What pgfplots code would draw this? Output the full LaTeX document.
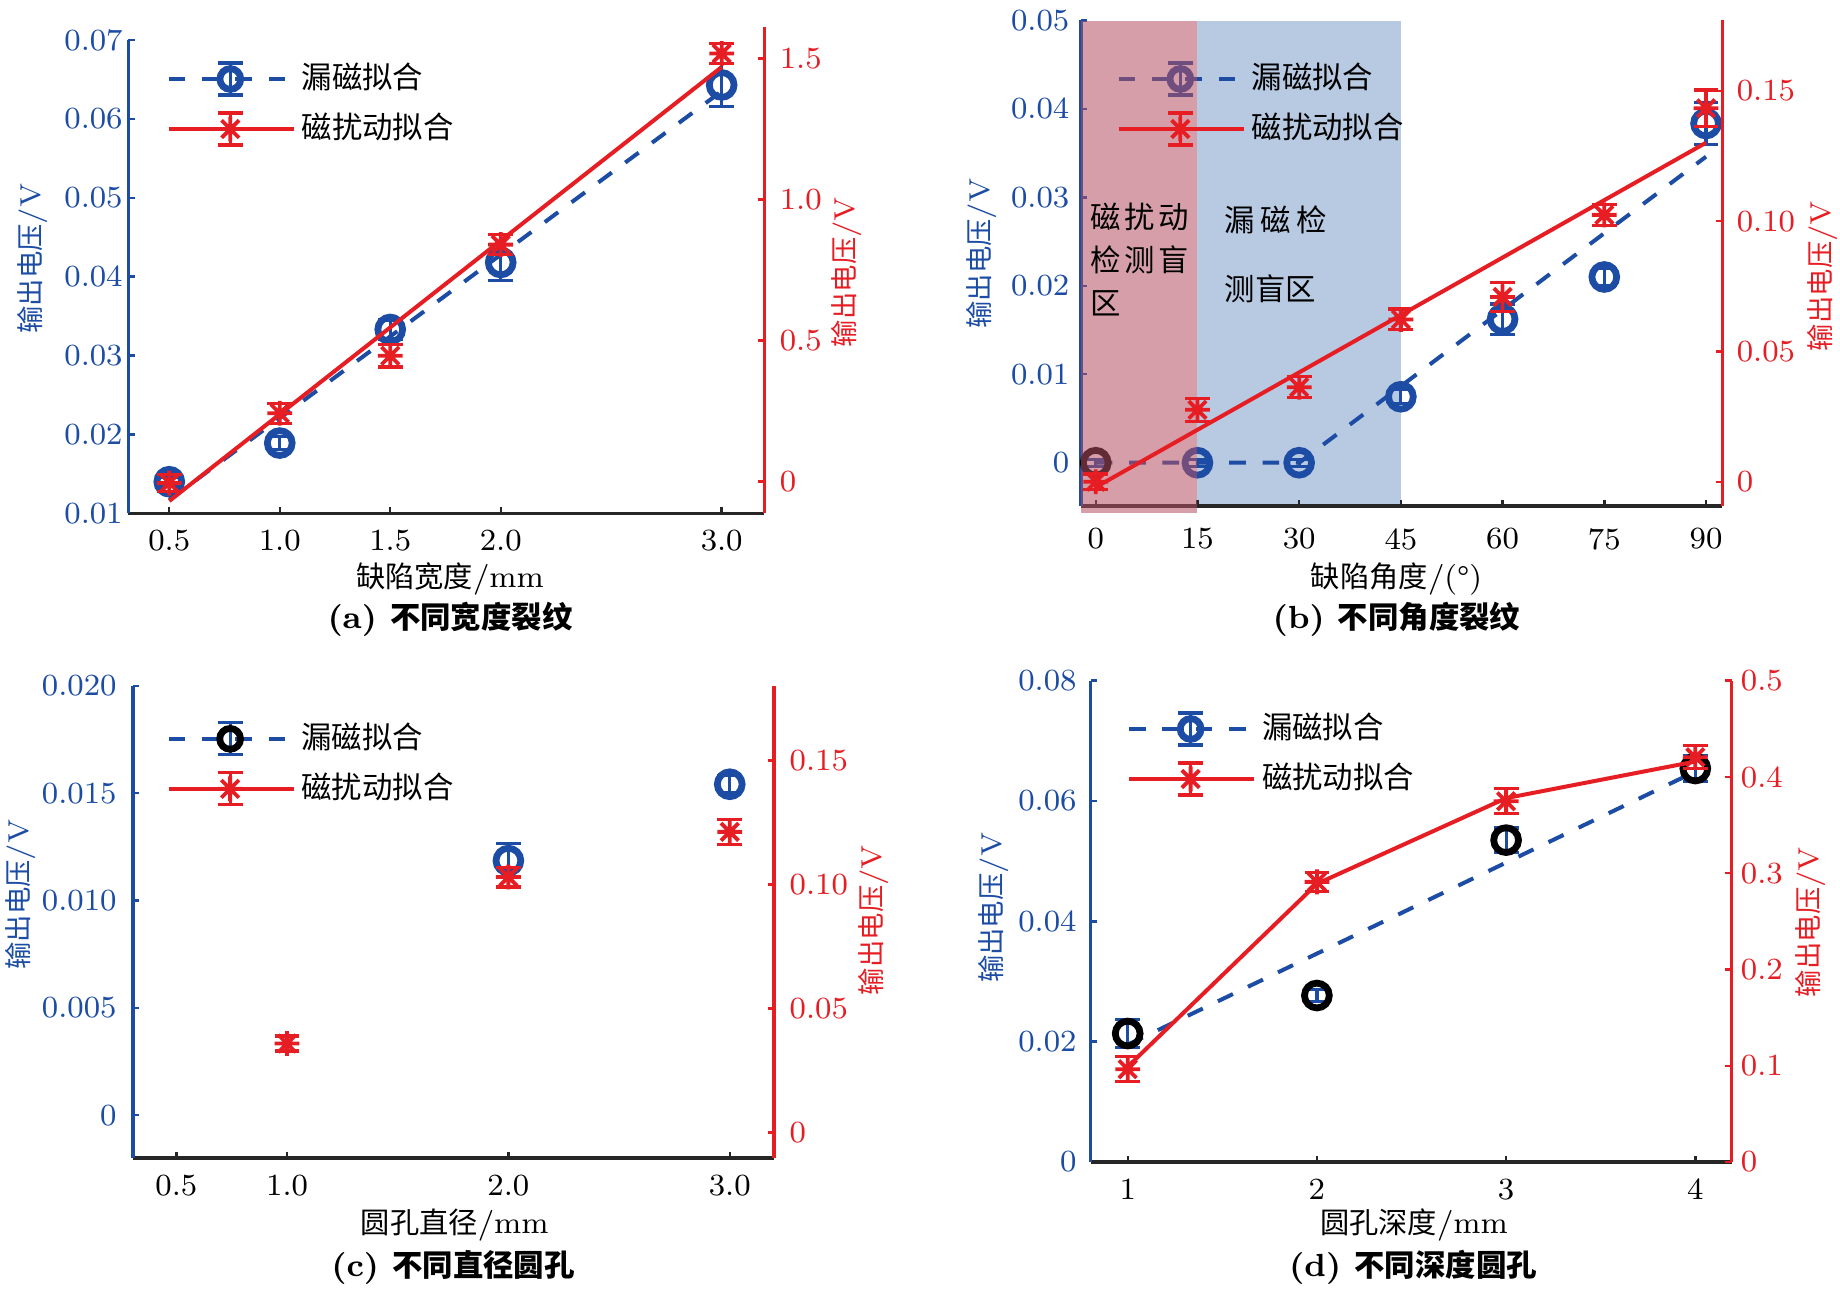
\documentclass[border=0pt]{standalone}
\usepackage{fontspec}
\usepackage{pgfplots}
\pgfplotsset{compat=1.18}
\newfontfamily\cjk{Noto Sans CJK SC}[Scale=0.95]

\definecolor{bl}{RGB}{28,76,164}
\definecolor{rd}{RGB}{230,30,36}
\definecolor{shadeR}{RGB}{180,79,97}
\definecolor{shadeB}{RGB}{184,201,226}

\newcommand\fs{\fontsize{8}{9.6}\selectfont}
\newcommand\ft{\fontsize{7.7}{9.2}\selectfont}
\newcommand\fl{\fontsize{7.2}{8.6}\selectfont}
\newcommand\fx{\fontsize{7.7}{9.2}\selectfont}

% asterisk as drawn by MATLAB: a plus and a cross
\pgfdeclareplotmark{mstar}{%
  \pgfpathmoveto{\pgfqpoint{0pt}{\pgfplotmarksize}}%
  \pgfpathlineto{\pgfqpoint{0pt}{-\pgfplotmarksize}}%
  \pgfpathmoveto{\pgfqpoint{\pgfplotmarksize}{0pt}}%
  \pgfpathlineto{\pgfqpoint{-\pgfplotmarksize}{0pt}}%
  \pgfpathmoveto{\pgfqpoint{.7071\pgfplotmarksize}{.7071\pgfplotmarksize}}%
  \pgfpathlineto{\pgfqpoint{-.7071\pgfplotmarksize}{-.7071\pgfplotmarksize}}%
  \pgfpathmoveto{\pgfqpoint{-.7071\pgfplotmarksize}{.7071\pgfplotmarksize}}%
  \pgfpathlineto{\pgfqpoint{.7071\pgfplotmarksize}{-.7071\pgfplotmarksize}}%
  \pgfusepathqstroke}

\pgfplotsset{
  every axis/.append style={scale only axis, anchor=south west, clip=false,
    scaled ticks=false, font=\fs, tick label style={font=\ft},
    tick align=inside, major tick length=1.6pt, tick style={line width=0.6pt}},
  leftax/.style={axis x line*=bottom, axis y line*=left, axis line style={-},
    x axis line style={black!85, line width=0.8pt},
    y axis line style={bl, line width=0.8pt},
    xtick style={black!85}, ytick style={bl},
    yticklabel style={bl}, xticklabel style={black}},
  rightax/.style={hide x axis, axis y line*=right, axis line style={-},
    y axis line style={rd, line width=0.8pt}, ytick style={rd},
    yticklabel style={rd}},
  bfit/.style={bl, line width=1pt, dash pattern=on 4.17pt off 4.17pt, forget plot},
  rfit/.style={rd, line width=1pt, forget plot},
  bpts/.style={only marks, forget plot, mark=o, mark size=3.1pt,
    mark options={#1, line width=1.7pt, solid},
    error bars/.cd, y dir=both, y explicit,
    error bar style={bl, line width=0.8pt, solid},
    error mark options={rotate=90, bl, line width=0.8pt, mark size=3.1pt}},
  bpts/.default=bl,
  rpts/.style={only marks, forget plot, mark=mstar, mark size=3.1pt,
    mark options={rd, line width=0.95pt, solid},
    error bars/.cd, y dir=both, y explicit,
    error bar style={rd, line width=0.8pt, solid},
    error mark options={rotate=90, rd, line width=0.8pt, mark size=3.1pt}},
  legb/.style={legend image code/.code={
    \path[draw=none, fill=none] (0pt,-6.25pt) rectangle (31.25pt,6.25pt);
    \draw[bl, line width=1pt, dash pattern=on 4.17pt off 4.17pt] (0pt,0pt) -- (31.25pt,0pt);
    \draw[bl, line width=0.8pt, solid] (15.4pt,-4pt) -- (15.4pt,4pt)
      (12.3pt,-4pt) -- (18.5pt,-4pt) (12.3pt,4pt) -- (18.5pt,4pt);
    \draw[#1, line width=1.7pt, solid] plot[mark=o, mark size=2.6pt] coordinates {(15.4pt,0pt)};
  }},
  legb/.default=bl,
  legr/.style={legend image code/.code={
    \path[draw=none, fill=none] (0pt,-6.25pt) rectangle (31.25pt,6.25pt);
    \draw[rd, line width=1pt, solid] (0pt,0pt) -- (31.25pt,0pt);
    \draw[rd, line width=0.8pt, solid] (15.4pt,-4pt) -- (15.4pt,4pt)
      (12.3pt,-4pt) -- (18.5pt,-4pt) (12.3pt,4pt) -- (18.5pt,4pt);
    \draw[rd, line width=0.95pt, solid] plot[mark=mstar, mark size=3.1pt] coordinates {(15.4pt,0pt)};
  }},
  lege/.style={legend image code/.code={\path[draw=none, fill=none] (0pt,-6.25pt) rectangle (31.25pt,6.25pt);}},
  legsty/.style={legend style={at={#1}, anchor=north west, draw=none, fill=none,
    inner sep=0pt, outer sep=0pt, row sep=0pt, column sep=1.5pt,
    nodes={inner sep=0pt}, font=\fs}, legend cell align=left},
}

\begin{document}
\begin{tikzpicture}
\useasboundingbox (0,0) rectangle (460pt,323.25pt);

% ---------------- (a) ----------------
\begin{axis}[leftax, at={(32.075pt,194.925pt)}, width=159pt, height=118.325pt,
  xmin=0.3145, xmax=3.193, ymin=0.01, ymax=0.07,
  xtick={0.5,1,1.5,2,3}, xticklabels={0.5,1.0,1.5,2.0,3.0},
  ytick={0.01,0.02,0.03,0.04,0.05,0.06,0.07},
  yticklabels={0.01,0.02,0.03,0.04,0.05,0.06,0.07},
  xticklabel style={yshift=-0.6pt}, yticklabel style={xshift=2.1pt}]
\addplot[bfit] coordinates {(0.5,0.0117) (3,0.0635)};
\addplot[bpts] coordinates {
  (0.5,0.0140) +- (0,0.0006)
  (1.0,0.0189) +- (0,0.0008)
  (1.5,0.0333) +- (0,0.0012)
  (2.0,0.0418) +- (0,0.0023)
  (3.0,0.0643) +- (0,0.0027)};
\end{axis}
\begin{axis}[rightax, at={(32.075pt,194.925pt)}, width=159pt, height=121.5pt,
  xmin=0.3145, xmax=3.193, ymin=-0.112, ymax=1.611,
  ytick={0,0.5,1,1.5}, yticklabels={0,0.5,1.0,1.5},
  yticklabel style={xshift=0.35pt}, legsty={(0.0604,0.945)}]
\addlegendimage{legb}\addlegendentry{\cjk 漏磁拟合}
\addlegendimage{legr}\addlegendentry{\cjk 磁扰动拟合}
\addplot[rfit] coordinates {(0.5,-0.0684) (3,1.47)};
\addplot[rpts] coordinates {
  (0.5,-0.005) +- (0,0.03)
  (1.0,0.2427) +- (0,0.035)
  (1.5,0.4465) +- (0,0.04)
  (2.0,0.8405) +- (0,0.035)
  (3.0,1.518) +- (0,0.035)};
\end{axis}

% ---------------- (b) ----------------
% blue band, behind the data
\begin{axis}[hide axis, at={(270.25pt,196.75pt)}, width=160.325pt, height=121.375pt,
  xmin=-2.17, xmax=92.4, ymin=-0.00489, ymax=0.05]
\addplot[draw=none, fill=shadeB, forget plot] coordinates
  {(15,-0.00489) (45,-0.00489) (45,0.0499) (15,0.0499)} -- cycle;
\end{axis}
\begin{axis}[leftax, at={(270.25pt,196.75pt)}, width=160.325pt, height=121.375pt,
  xmin=-2.17, xmax=92.4, ymin=-0.00489, ymax=0.05,
  xtick={0,15,30,45,60,75,90}, xticklabels={0,15,30,45,60,75,90},
  ytick={0,0.01,0.02,0.03,0.04,0.05},
  yticklabels={0,0.01,0.02,0.03,0.04,0.05},
  xticklabel style={yshift=-2.05pt}, yticklabel style={xshift=0.6pt},
  legsty={(0.0557,0.931)}]
\addlegendimage{legb}\addlegendentry{\cjk 漏磁拟合}
\addlegendimage{lege}\addlegendentry{\phantom{\cjk 磁扰动拟合}}
\addplot[bfit] coordinates {(0,0) (30,0) (90,0.0346)};
\addplot[bpts] coordinates {
  (15,0) +- (0,0.0004)
  (30,0) +- (0,0.0004)
  (45,0.00746) +- (0,0.0008)
  (60,0.01624) +- (0,0.0017)
  (75,0.0210) +- (0,0.0010)
  (90,0.03835) +- (0,0.0024)};
\addplot[bpts=black] coordinates {(0,0) +- (0,0.0004)};
\end{axis}
% pink band, over the blue data
\begin{axis}[hide axis, at={(270.25pt,196.75pt)}, width=160.325pt, height=121.375pt,
  xmin=-2.17, xmax=92.4, ymin=-0.00489, ymax=0.05]
\addplot[draw=none, fill=shadeR, fill opacity=0.55, forget plot] coordinates
  {(-2.17,-0.00565) (15,-0.00565) (15,0.0499) (-2.17,0.0499)} -- cycle;
\end{axis}
\begin{axis}[rightax, at={(270.25pt,196.75pt)}, width=160.325pt, height=121.375pt,
  xmin=-2.17, xmax=92.4, ymin=-0.00929, ymax=0.177,
  ytick={0,0.05,0.1,0.15}, yticklabels={0,0.05,0.10,0.15},
  yticklabel style={xshift=0.1pt}, legsty={(0.0557,0.931)}]
\addlegendimage{lege}\addlegendentry{\phantom{\cjk 漏磁拟合}}
\addlegendimage{legr}\addlegendentry{\cjk 磁扰动拟合}
\addplot[rfit] coordinates {(0,-0.0021) (90,0.1301)};
\addplot[rpts] coordinates {
  (0,0.0) +- (0,0.003)
  (15,0.0276) +- (0,0.0045)
  (30,0.0363) +- (0,0.004)
  (45,0.0623) +- (0,0.004)
  (60,0.0709) +- (0,0.0055)
  (75,0.1024) +- (0,0.004)
  (90,0.1433) +- (0,0.007)};
\end{axis}

% ---------------- (c) ----------------
\begin{axis}[leftax, at={(33.25pt,33.75pt)}, width=160.25pt, height=118pt,
  xmin=0.304, xmax=3.2, ymin=-0.002, ymax=0.02,
  xtick={0.5,1,2,3}, xticklabels={0.5,1.0,2.0,3.0},
  ytick={0,0.005,0.01,0.015,0.02},
  yticklabels={0,0.005,0.010,0.015,0.020},
  xticklabel style={yshift=-0.6pt}, yticklabel style={xshift=-0.6pt}]
\addplot[bpts] coordinates {
  (2,0.01186) +- (0,0.0008)
  (3,0.01542) +- (0,0.0004)};
\end{axis}
\begin{axis}[rightax, at={(33.25pt,33.75pt)}, width=160.25pt, height=118pt,
  xmin=0.304, xmax=3.2, ymin=-0.01024, ymax=0.18,
  ytick={0,0.05,0.1,0.15}, yticklabels={0,0.05,0.10,0.15},
  yticklabel style={xshift=0.4pt}, legsty={(0.0523,0.941)}]
\addlegendimage{legb=black}\addlegendentry{\cjk 漏磁拟合}
\addlegendimage{legr}\addlegendentry{\cjk 磁扰动拟合}
\addplot[rpts] coordinates {
  (1,0.0359) +- (0,0.003)
  (2,0.1030) +- (0,0.004)
  (3,0.1212) +- (0,0.005)};
\end{axis}

% ---------------- (d) ----------------
\begin{axis}[leftax, at={(272.65pt,32.75pt)}, width=160.3pt, height=120.325pt,
  xmin=0.804, xmax=4.193, ymin=0, ymax=0.08,
  xtick={1,2,3,4}, xticklabels={1,2,3,4},
  ytick={0,0.02,0.04,0.06,0.08}, yticklabels={0,0.02,0.04,0.06,0.08},
  xticklabel style={yshift=-0.7pt}, yticklabel style={xshift=0pt}]
\addplot[bfit] coordinates {(1,0.0195) (4,0.0649)};
\addplot[bpts=black] coordinates {
  (1,0.02135) +- (0,0.0023)
  (2,0.02767) +- (0,0.0010)
  (3,0.0535) +- (0,0.0020)
  (4,0.0654) +- (0,0.0022)};
\end{axis}
\begin{axis}[rightax, at={(272.65pt,32.75pt)}, width=160.3pt, height=120.325pt,
  xmin=0.804, xmax=4.193, ymin=0, ymax=0.5,
  ytick={0,0.1,0.2,0.3,0.4,0.5}, yticklabels={0,0.1,0.2,0.3,0.4,0.5},
  yticklabel style={xshift=-1.25pt}, legsty={(0.0568,0.9516)}]
\addlegendimage{legb}\addlegendentry{\cjk 漏磁拟合}
\addlegendimage{legr}\addlegendentry{\cjk 磁扰动拟合}
\addplot[rfit] coordinates {(1,0.099) (2,0.289) (3,0.378) (4,0.416)};
\addplot[rpts] coordinates {
  (1,0.0964) +- (0,0.013)
  (2,0.291) +- (0,0.010)
  (3,0.3747) +- (0,0.013)
  (4,0.4205) +- (0,0.012)};
\end{axis}

% ---------------- labels ----------------
\begin{scope}[every node/.style={inner sep=0pt}]
\node[rotate=90, text=bl, font=\fl] at (8.1pt,258.6pt) {{\cjk 输出电压}/V};
\node[rotate=90, text=rd, font=\fl] at (211.75pt,255.25pt) {{\cjk 输出电压}/V};
\node[rotate=90, text=bl, font=\fl] at (245.45pt,259.85pt) {{\cjk 输出电压}/V};
\node[rotate=90, text=rd, font=\fl] at (455.75pt,254.25pt) {{\cjk 输出电压}/V};
\node[rotate=90, text=bl, font=\fl] at (5.15pt,99.65pt) {{\cjk 输出电压}/V};
\node[rotate=90, text=rd, font=\fl] at (218.375pt,93.25pt) {{\cjk 输出电压}/V};
\node[rotate=90, text=bl, font=\fl] at (248.375pt,96.325pt) {{\cjk 输出电压}/V};
\node[rotate=90, text=rd, font=\fl] at (452.75pt,92.75pt) {{\cjk 输出电压}/V};

\node[font=\fx] at (112.5pt,178.575pt) {{\cjk 缺陷宽度}/mm};
\node[font=\fx] at (349.125pt,178.575pt) {{\cjk 缺陷角度}/(°)};
\node[font=\fx] at (113.675pt,17.1pt) {{\cjk 圆孔直径}/mm};
\node[font=\fx] at (353.5pt,17.1pt) {{\cjk 圆孔深度}/mm};

\node[font=\fs\bfseries] at (112.5pt,168.35pt) {(a) {\cjk 不同宽度裂纹}};
\node[font=\fs\bfseries] at (349.125pt,168.35pt) {(b) {\cjk 不同角度裂纹}};
\node[font=\fs\bfseries] at (113.25pt,6.35pt) {(c) {\cjk 不同直径圆孔}};
\node[font=\fs\bfseries] at (353.25pt,6.35pt) {(d) {\cjk 不同深度圆孔}};

\node[anchor=west, font=\fs] at (272.5pt,269.075pt) {\cjk 磁\hspace{0.9pt}扰\hspace{0.9pt}动};
\node[anchor=west, font=\fs] at (272.5pt,258.25pt) {\cjk 检\hspace{0.9pt}测\hspace{0.9pt}盲};
\node[anchor=west, font=\fs] at (272.5pt,247.5pt) {\cjk 区};
\node[anchor=west, font=\fs] at (306pt,268.25pt) {\cjk 漏\hspace{1.4pt}磁\hspace{1.4pt}检};
\node[anchor=west, font=\fs] at (306pt,251pt) {\cjk 测盲区};
\end{scope}
\end{tikzpicture}
\end{document}
